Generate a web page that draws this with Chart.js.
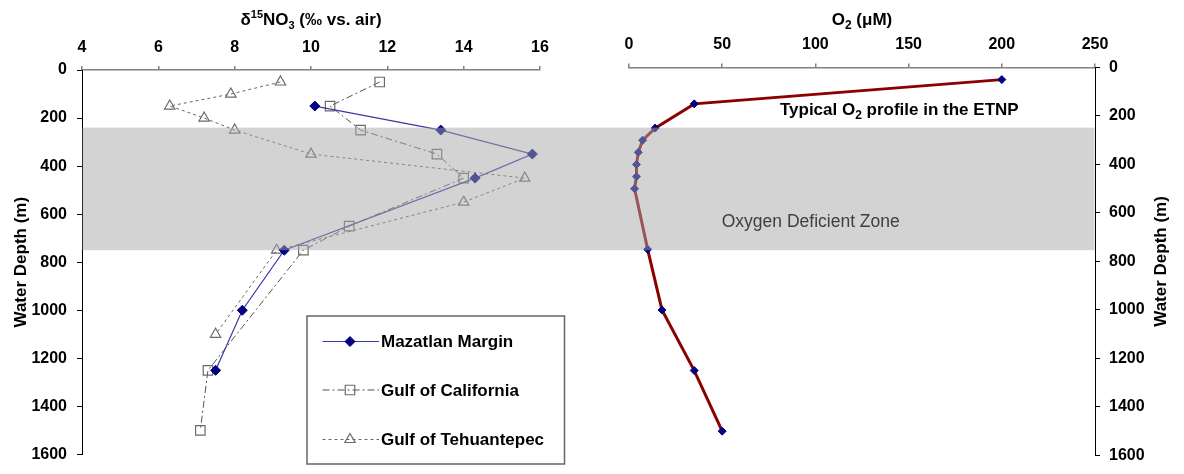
<!DOCTYPE html>
<html>
<head>
<meta charset="utf-8">
<script src="https://cdn.jsdelivr.net/npm/chart.js@4/dist/chart.umd.min.js"></script>
<style>
  html, body { margin: 0; padding: 0; background: #fff; }
  #wrap { position: relative; width: 1184px; height: 474px; overflow: hidden; background: #fff; }
  #isoChart { position: absolute; left: 0; top: 0; }
  #oxyChart { position: absolute; left: 585px; top: 0; }
</style>
</head>
<body>
<div id="wrap">
  <canvas id="isoChart" width="585" height="474"></canvas>
  <canvas id="oxyChart" width="599" height="474"></canvas>
</div>
<script>
// ---- tick labels ----
const depthTicks = [0, 200, 400, 600, 800, 1000, 1200, 1400, 1600];
const d15Ticks = [4, 6, 8, 10, 12, 14, 16];
const o2Ticks = [0, 50, 100, 150, 200, 250];

// ---- nitrate isotope profiles (depth in m, d15N in permil) ----
const seriesNames = ['Mazatlan Margin', 'Gulf of California', 'Gulf of Tehuantepec'];
const mazDepth = [150, 250, 350, 450, 750, 1000, 1250];
const mazD15 = [10.1, 13.4, 15.8, 14.3, 9.3, 8.2, 7.5];
const calDepth = [50, 150, 250, 350, 450, 650, 750, 1250, 1500];
const calD15 = [11.8, 10.5, 11.3, 13.3, 14.0, 11.0, 9.8, 7.3, 7.1];
const tehDepth = [50, 100, 150, 200, 250, 350, 450, 550, 750, 1100];
const tehD15 = [9.2, 7.9, 6.3, 7.2, 8.0, 10.0, 15.6, 14.0, 9.1, 7.5];

// ---- oxygen profile (depth in m, O2 in uM) ----
const o2Depth = [50, 150, 250, 300, 350, 400, 450, 500, 750, 1000, 1250, 1500];
const o2Conc = [200, 35, 14, 7.3, 5, 4, 4, 3, 10, 17.7, 35, 50];

// oxygen deficient zone depth range (m)
const odzRange = [240, 750];

const FONT = '"Liberation Sans", Arial, Helvetica, sans-serif';
Chart.defaults.font.family = FONT;

const pts = (xs, ys) => xs.map((v, i) => ({ x: v, y: ys[i] }));
const fixedTicks = list => scale => { scale.ticks = list.map(v => ({ value: v })); };
const BAND = 'rgba(168,168,168,0.5)';
let bandScale = null; // depth scale shared by both panels for the shaded zone

// marker path matching Chart.js point geometry
function markerPath(ctx, style, r, x, y) {
  ctx.beginPath();
  if (style === 'rectRot') {
    ctx.moveTo(x, y - r); ctx.lineTo(x + r, y); ctx.lineTo(x, y + r); ctx.lineTo(x - r, y);
  } else if (style === 'rect') {
    const h = r * Math.SQRT1_2;
    ctx.rect(x - h, y - h, 2 * h, 2 * h);
  } else if (style === 'triangle') {
    const s = Math.sin(Math.PI / 3) * r;
    ctx.moveTo(x, y - r); ctx.lineTo(x + s, y + r / 2); ctx.lineTo(x - s, y + r / 2);
  }
  ctx.closePath();
}

// text made of runs with their own size and vertical shift (sub/superscripts)
function richText(ctx, parts, x, baseline, align, color) {
  let total = 0;
  parts.forEach(p => {
    ctx.font = `${p.w || 'bold'} ${p.s}px ${FONT}`;
    p.width = ctx.measureText(p.t).width;
    total += p.width;
  });
  let cx = align === 'center' ? x - total / 2 : x;
  ctx.textAlign = 'left';
  ctx.textBaseline = 'alphabetic';
  ctx.fillStyle = color || '#000';
  parts.forEach(p => {
    ctx.font = `${p.w || 'bold'} ${p.s}px ${FONT}`;
    ctx.fillText(p.t, cx, baseline + (p.dy || 0));
    cx += p.width;
  });
}

function depthTitle(ctx, x, y) {
  ctx.save();
  ctx.translate(x, y);
  ctx.rotate(-Math.PI / 2);
  richText(ctx, [{ t: 'Water Depth (m)', s: 17 }], 0, 6, 'center', '#000');
  ctx.restore();
}

function axisStyle(ticksList, pad, extra) {
  return Object.assign({
    type: 'linear',
    afterBuildTicks: fixedTicks(ticksList),
    ticks: {
      color: '#000',
      font: { family: FONT, size: 16, weight: 'bold' },
      autoSkip: false,
      maxRotation: 0,
      padding: pad,
      callback: v => String(v)
    }
  }, extra);
}

function drawBand(chart, x0, x1) {
  const ys = bandScale || chart.scales.y;
  const y0 = ys.getPixelForValue(odzRange[0]);
  const y1 = ys.getPixelForValue(odzRange[1]);
  const ctx = chart.ctx;
  ctx.save();
  ctx.fillStyle = BAND;
  ctx.fillRect(x0, y0, x1 - x0, y1 - y0);
  ctx.restore();
}

// ---------------- left panel: d15N of nitrate ----------------
const isoDecor = {
  id: 'isoDecor',
  afterDatasetsDraw(chart) {
    bandScale = chart.scales.y;
    drawBand(chart, chart.chartArea.left + 0.5, chart.width);
  },
  afterDraw(chart) {
    const { ctx, chartArea: a } = chart;
    ctx.save();
    // axis titles
    richText(ctx, [
      { t: '\u03B4', s: 17 },
      { t: '15', s: 11, dy: -7 },
      { t: 'NO', s: 17 },
      { t: '3', s: 11, dy: 4 },
      { t: ' (\u2030 vs. air)', s: 17 }
    ], (a.left + a.right) / 2, 25, 'center');
    depthTitle(ctx, 20, (a.top + a.bottom) / 2);

    // legend box
    const bx = 307, by = 316, bw = 257.5, bh = 148;
    ctx.fillStyle = '#fff';
    ctx.fillRect(bx, by, bw, bh);
    ctx.strokeStyle = '#666';
    ctx.lineWidth = 1.5;
    ctx.strokeRect(bx, by, bw, bh);
    const rows = [341.5, 390, 439.5];
    chart.data.datasets.forEach((ds, i) => {
      const ry = rows[i];
      ctx.save();
      ctx.strokeStyle = ds.borderColor;
      ctx.lineWidth = ds.borderWidth;
      ctx.setLineDash(ds.borderDash || []);
      ctx.beginPath();
      ctx.moveTo(322.5, ry);
      ctx.lineTo(379, ry);
      ctx.stroke();
      ctx.setLineDash([]);
      markerPath(ctx, ds.pointStyle, ds.pointRadius, 350, ry);
      ctx.fillStyle = ds.pointBackgroundColor;
      ctx.fill();
      ctx.strokeStyle = ds.pointBorderColor;
      ctx.lineWidth = ds.pointBorderWidth;
      ctx.stroke();
      ctx.restore();
      ctx.font = `bold 17px ${FONT}`;
      ctx.textAlign = 'left';
      ctx.textBaseline = 'middle';
      ctx.fillStyle = '#000';
      ctx.fillText(ds.label, 381, ry + 1);
    });
    ctx.restore();
  }
};

new Chart(document.getElementById('isoChart'), {
  type: 'scatter',
  data: {
    datasets: [
      {
        label: seriesNames[0], data: pts(mazD15, mazDepth), showLine: true,
        borderColor: '#3a3aa6', borderWidth: 1.2,
        pointStyle: 'rectRot', pointRadius: 5,
        pointBackgroundColor: '#000080', pointBorderColor: '#000080', pointBorderWidth: 1
      },
      {
        label: seriesNames[1], data: pts(calD15, calDepth), showLine: true,
        borderColor: '#555', borderWidth: 1, borderDash: [7, 3, 2, 3],
        pointStyle: 'rect', pointRadius: 6.7,
        pointBackgroundColor: 'rgba(0,0,0,0)', pointBorderColor: '#6a6a6a', pointBorderWidth: 1.2
      },
      {
        label: seriesNames[2], data: pts(tehD15, tehDepth), showLine: true,
        borderColor: '#666', borderWidth: 1, borderDash: [3, 3],
        pointStyle: 'triangle', pointRadius: 6,
        pointBackgroundColor: 'rgba(0,0,0,0)', pointBorderColor: '#6a6a6a', pointBorderWidth: 1.2
      }
    ]
  },
  options: {
    responsive: false,
    animation: false,
    events: [],
    layout: { padding: { left: 0, right: 45, top: 0, bottom: 14 } },
    plugins: { legend: { display: false }, tooltip: { enabled: false } },
    scales: {
      x: axisStyle(d15Ticks, 9, {
        position: 'top', min: 4, max: 16,
        afterFit: s => { s.height = 70; },
        grid: { drawOnChartArea: false, drawTicks: true, tickLength: 4, color: '#808080', lineWidth: 1.5 },
        border: { color: '#808080', width: 1.5 }
      }),
      y: axisStyle(depthTicks, 10, {
        position: 'left', reverse: true, min: 0, max: 1600,
        afterFit: s => { s.width = 82; },
        grid: { drawOnChartArea: false, drawTicks: true, tickLength: 5, color: '#000', lineWidth: 1 },
        border: { color: '#000', width: 1 }
      })
    }
  },
  plugins: [isoDecor]
});

// ---------------- right panel: dissolved oxygen ----------------
const oxyDecor = {
  id: 'oxyDecor',
  afterDatasetsDraw(chart) {
    drawBand(chart, 0, chart.chartArea.right - 0.5);
  },
  afterDraw(chart) {
    const { ctx, chartArea: a, scales: { x, y } } = chart;
    ctx.save();
    richText(ctx, [
      { t: 'O', s: 17 },
      { t: '2', s: 12, dy: 4 },
      { t: ' (\u03BCM)', s: 17 }
    ], (a.left + a.right) / 2, 25, 'center');
    depthTitle(ctx, 575, (a.top + a.bottom) / 2);

    richText(ctx, [
      { t: 'Typical O', s: 17 },
      { t: '2', s: 12, dy: 4 },
      { t: ' profile in the ETNP', s: 17 }
    ], x.getPixelForValue(145), y.getPixelForValue(172) + 6, 'center', '#000');

    ctx.font = `17.5px ${FONT}`;
    ctx.textAlign = 'center';
    ctx.textBaseline = 'middle';
    ctx.fillStyle = '#404040';
    ctx.fillText('Oxygen Deficient Zone', x.getPixelForValue(97.5), y.getPixelForValue(636));
    ctx.restore();
  }
};

new Chart(document.getElementById('oxyChart'), {
  type: 'scatter',
  data: {
    datasets: [{
      label: 'O2', data: pts(o2Conc, o2Depth), showLine: true,
      borderColor: '#8b0000', borderWidth: 3,
      pointStyle: 'rectRot', pointRadius: 4,
      pointBackgroundColor: '#000080', pointBorderColor: '#000080', pointBorderWidth: 1
    }]
  },
  options: {
    responsive: false,
    animation: false,
    events: [],
    layout: { padding: { left: 44, right: 0, top: 0, bottom: 10 } },
    plugins: { legend: { display: false }, tooltip: { enabled: false } },
    scales: {
      x: axisStyle(o2Ticks, 9, {
        position: 'top', min: 0, max: 250,
        afterFit: s => { s.height = 67.5; },
        grid: { drawOnChartArea: false, drawTicks: true, tickLength: 4, color: '#808080', lineWidth: 1.5 },
        border: { color: '#808080', width: 1.5 }
      }),
      y: axisStyle(depthTicks, 9, {
        position: 'right', reverse: true, min: 0, max: 1600,
        afterFit: s => { s.width = 89; },
        grid: { drawOnChartArea: false, drawTicks: true, tickLength: 5, color: '#000', lineWidth: 1 },
        border: { color: '#000', width: 1 }
      })
    }
  },
  plugins: [oxyDecor]
});
</script>
</body>
</html>
